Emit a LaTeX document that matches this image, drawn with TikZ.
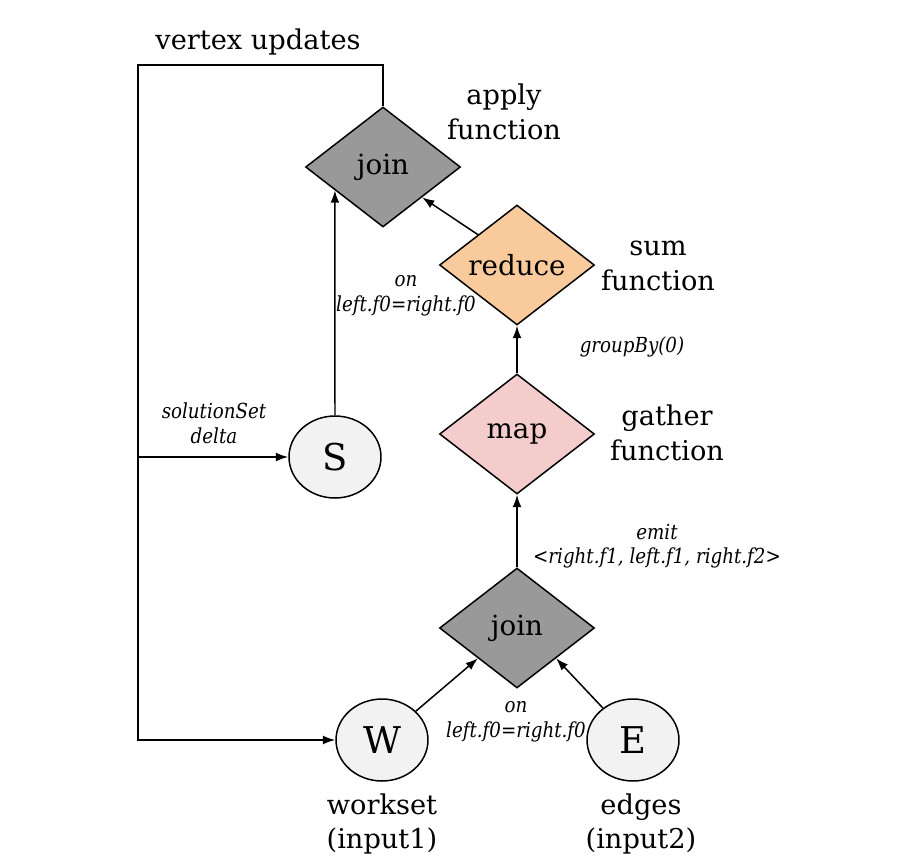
\documentclass[tikz,border=0pt]{standalone}
\usepackage{fontspec}
\setmainfont{DejaVu Serif}
\newfontfamily\labit{DejaVu Serif}[FakeStretch=0.88]
\usetikzlibrary{shapes.geometric,arrows.meta,calc}
\definecolor{joingray}{HTML}{999999}
\definecolor{redorange}{HTML}{F9CB9C}
\definecolor{mappink}{HTML}{F4CCCC}
\definecolor{circfill}{HTML}{F2F2F2}
\begin{document}
\begin{tikzpicture}[x=0.02cm,y=-0.02cm,line width=0.85pt,
  dia/.style={diamond,draw=black,minimum width=3.1cm,minimum height=2.4cm,inner sep=0pt,font=\fontsize{15.8}{18}\selectfont},
  circ/.style={ellipse,draw=black,fill=circfill,minimum width=1.84cm,minimum height=1.64cm,inner sep=0pt,font=\fontsize{21}{24}\selectfont},
  lbl/.style={align=center,inner sep=0pt,font=\fontsize{15.5}{19.8}\selectfont},
  ilbl/.style={align=center,inner sep=0pt,font=\labit\fontsize{11.8}{14}\selectfont\itshape},
  arr/.style={-{Latex[length=7pt,width=5pt]}}]
\useasboundingbox (0,0) rectangle (900,860);
% nodes
\node[dia,fill=joingray] (tj) at (383,167) {join};
\node[dia,fill=redorange] (red) at (517,265) {reduce};
\node[dia,fill=mappink] (map) at (517,434) {map};
\node[dia,fill=joingray] (bj) at (517,628) {join};
\node[circ] (S) at (335,457) {S};
\node[circ] (W) at (382,740) {W};
\node[circ] (E) at (633,740) {E};
% labels
\node[lbl] (lvu) at (258,42) {vertex updates};
\node[lbl] (lapply) at (504,112) {apply\\function};
\node[lbl] (lsum) at (658,266) {sum\\function};
\node[lbl] (lgather) at (667,433) {gather\\function};
\node[lbl] (lws) at (382,824) {workset\\(input1)};
\node[lbl] (led) at (641,824) {edges\\(input2)};
\node[ilbl] (lon1) at (406,296) {on\\left.f0=right.f0};
\node[ilbl] (lgb) at (632,347) {groupBy(0)};
\node[ilbl] (lsol) at (214,423) {solutionSet\\delta};
\node[ilbl] (lemit) at (657,546) {emit\\<right.f1, left.f1, right.f2>};
\node[ilbl] (lon2) at (516,722) {on\\left.f0=right.f0};
% connectors
\coordinate (fb) at (138,65);
\draw[arr] (tj.north) |- (fb) |- (W.west);
\draw[arr] (fb |- S.west) -- (S.west);
\draw[arr] (S.north) -- ($(tj.west)!0.385!(tj.south)$);
\draw[arr] (red.north west) -- (tj.south east);
\draw[arr] (map.north) -- (red.south);
\draw[arr] (bj.north) -- (map.south);
\draw[arr] (W) -- (bj.south west);
\draw[arr] (E) -- (bj.south east);
\end{tikzpicture}
\end{document}
